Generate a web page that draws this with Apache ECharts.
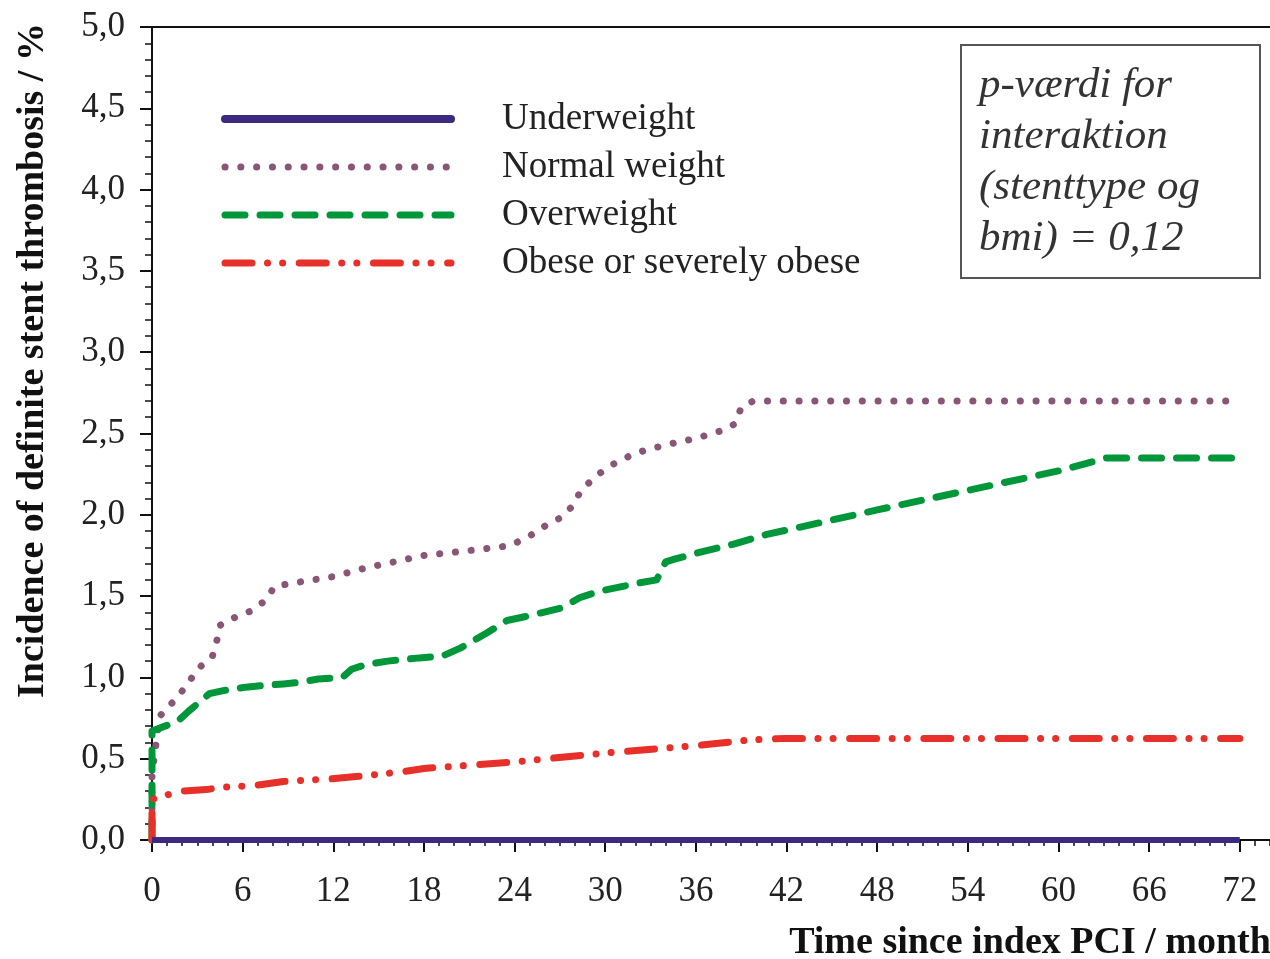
<!DOCTYPE html>
<html>
<head>
<meta charset="utf-8">
<script src="https://cdn.jsdelivr.net/npm/echarts@6/dist/echarts.min.js"></script>
<style>
html,body{margin:0;padding:0;background:#fff;}
#chart{width:1270px;height:959px;}
</style>
</head>
<body>
<div id="chart"></div>
<script>
// ---- data (time in months, incidence in %) ----
const seriesNames = ['Underweight', 'Normal weight', 'Overweight', 'Obese or severely obese'];

const underT = [0, 72];
const underV = [0, 0];

const normalT = [0, 0, 0.5, 1.5, 2.3, 3, 4, 4.3, 4.5, 5.5, 6.6, 7.6, 8.1, 10, 12, 14, 16, 18, 21, 23.7, 25, 26, 27, 27.8, 28.4, 29.4, 30.5, 32, 34, 36, 37.8, 38.6, 39, 39.8, 72];
const normalV = [0, 0.4, 0.76, 0.86, 0.95, 1.05, 1.13, 1.23, 1.32, 1.37, 1.41, 1.48, 1.56, 1.59, 1.62, 1.67, 1.71, 1.75, 1.78, 1.81, 1.87, 1.93, 1.98, 2.05, 2.15, 2.24, 2.31, 2.38, 2.43, 2.47, 2.52, 2.56, 2.66, 2.70, 2.70];

const overT = [0, 0, 1.7, 2.4, 3.8, 4.8, 6.2, 7.4, 8.7, 9.8, 11, 12.6, 13.2, 14.2, 15.6, 17.7, 19.2, 20.4, 22.1, 23.5, 25, 27.2, 28.3, 29.6, 32.2, 33.4, 34, 34.7, 36.3, 38.5, 40.7, 42.7, 48, 54, 60, 63.2, 72];
const overV = [0, 0.67, 0.73, 0.79, 0.90, 0.92, 0.94, 0.95, 0.96, 0.97, 0.99, 1.00, 1.05, 1.08, 1.10, 1.12, 1.13, 1.18, 1.27, 1.35, 1.38, 1.43, 1.49, 1.53, 1.58, 1.60, 1.71, 1.73, 1.77, 1.82, 1.88, 1.92, 2.03, 2.15, 2.27, 2.35, 2.35];

const obeseT = [0, 0, 0.75, 1.8, 3.6, 4.7, 5.7, 6.75, 8.7, 10.6, 11.8, 13.5, 15.6, 16.6, 18, 24, 30, 36, 39.5, 42, 72];
const obeseV = [0, 0.25, 0.27, 0.30, 0.31, 0.325, 0.33, 0.335, 0.36, 0.37, 0.375, 0.39, 0.41, 0.42, 0.44, 0.48, 0.535, 0.58, 0.615, 0.625, 0.625];

const xTicks = [0, 6, 12, 18, 24, 30, 36, 42, 48, 54, 60, 66, 72];

const xTitle = 'Time since index PCI / month';
const yTitle = 'Incidence of definite stent thrombosis / %';
const noteLines = ['p-værdi for', 'interaktion', '(stenttype og', 'bmi) = 0,12'];

// ---- styles ----
const serif = 'Liberation Serif, Times New Roman, serif';
const styles = [
  {color: '#3b2a80', width: 6, type: 'solid', cap: 'butt'},
  {color: '#8a5677', width: 7, type: [0.1, 15.7], cap: 'round'},
  {color: '#00963a', width: 7, type: [20, 15], cap: 'round'},
  {color: '#e8302a', width: 7, type: [27, 15.5, 0.1, 15, 0.1, 16.5], cap: 'round'}
];
const seriesData = [zip(underT, underV), zip(normalT, normalV), zip(overT, overV), zip(obeseT, obeseV)];
function zip(t, v) { return t.map((x, i) => [x, v[i]]); }

const chart = echarts.init(document.getElementById('chart'), null, {renderer: 'canvas'});

const option = {
  backgroundColor: '#ffffff',
  animation: false,
  grid: {left: 152, right: 0, top: 27, bottom: 119, containLabel: false, outerBoundsMode: 'none'},
  legend: {
    orient: 'vertical',
    left: 221,
    top: 99,
    padding: 0,
    itemWidth: 226,
    itemHeight: 20,
    itemGap: 8,
    data: seriesNames.map((n, i) => ({
      name: n,
      itemStyle: {opacity: 0},
      lineStyle: {color: styles[i].color, width: i === 0 ? 8 : styles[i].width, type: styles[i].type, cap: 'round'}
    })),
    textStyle: {fontFamily: serif, fontSize: 37, lineHeight: 40, color: '#222', padding: [0, 0, 0, 46]}
  },
  xAxis: [
    {
      type: 'value', min: 0, max: 74, interval: 6, position: 'bottom',
      name: xTitle, nameLocation: 'middle', nameGap: 84,
      nameTextStyle: {fontFamily: serif, fontSize: 38, fontWeight: 'bold', color: '#111', padding: [0, 0, 0, 638]},
      axisLine: {show: true, lineStyle: {color: '#111', width: 2}},
      axisTick: {show: true, length: 12, inside: false, lineStyle: {color: '#111', width: 2}, customValues: xTicks},
      axisLabel: {fontFamily: serif, fontSize: 35, color: '#222', margin: 34, customValues: xTicks},
      splitLine: {show: false}
    },
    {
      type: 'value', min: 0, max: 74, interval: 1, position: 'bottom', gridIndex: 0,
      axisLine: {show: false},
      axisTick: {show: true, length: 6, lineStyle: {color: '#111', width: 1.5}},
      axisLabel: {show: false},
      splitLine: {show: false}
    },
    {
      type: 'value', min: 0, max: 74, position: 'top', gridIndex: 0,
      axisLine: {show: true, lineStyle: {color: '#111', width: 2}},
      axisTick: {show: false}, axisLabel: {show: false}, splitLine: {show: false}
    }
  ],
  yAxis: {
    type: 'value', min: 0, max: 5, interval: 0.5,
    name: yTitle, nameLocation: 'middle', nameGap: 100, nameRotate: 90,
    nameTextStyle: {fontFamily: serif, fontSize: 38, fontWeight: 'bold', color: '#111', padding: [0, 0, 0, 146]},
    axisLine: {show: true, lineStyle: {color: '#111', width: 2}},
    axisTick: {show: true, length: 12, lineStyle: {color: '#111', width: 2}},
    minorTick: {show: true, splitNumber: 5, length: 7, lineStyle: {color: '#111', width: 1.5}},
    axisLabel: {fontFamily: serif, fontSize: 35, color: '#222', margin: 27,
      formatter: v => v.toFixed(1).replace('.', ',')},
    splitLine: {show: false}
  },
  series: seriesNames.map((n, i) => ({
    name: n, type: 'line', data: seriesData[i], showSymbol: false, symbol: 'none',
    z: [5, 2, 3, 4][i],
    lineStyle: Object.assign({join: 'round'}, styles[i]),
    itemStyle: {color: styles[i].color}
  })),
  graphic: [
    {
      type: 'rect', left: 960, top: 44, z: 10,
      shape: {width: 299, height: 233},
      style: {fill: '#fff', stroke: '#555', lineWidth: 2}
    },
    {
      type: 'text', left: 979, top: 60, z: 11,
      style: {
        text: noteLines.join('\n'),
        font: 'italic 43px ' + serif,
        fill: '#333',
        lineHeight: 51
      }
    }
  ]
};
chart.setOption(option);
</script>
</body>
</html>
